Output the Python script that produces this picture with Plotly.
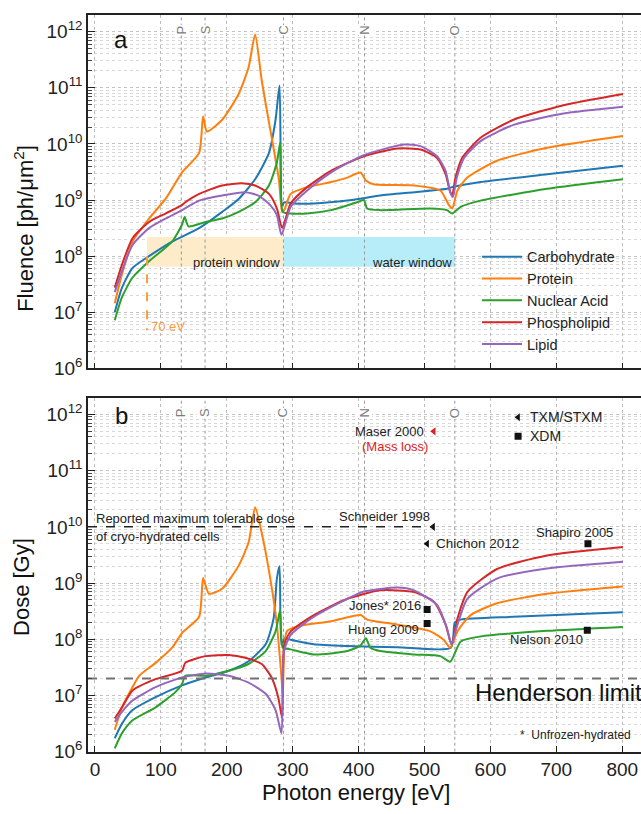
import plotly.graph_objects as go

W, H = 641, 814
FONT = "Liberation Sans, Arial, sans-serif"

# ---------------- data ----------------
series_names = ["Carbohydrate", "Protein", "Nuclear Acid", "Phospholipid", "Lipid"]
series_colors = ["#1f77b4", "#ff7f0e", "#2ca02c", "#d62728", "#9467bd"]

# Panel a: fluence, log10(ph/um^2)
E_fl_carb = [30, 41, 57, 82, 117, 158, 193, 218, 243, 264, 274, 280, 284, 287, 302, 332, 383, 433, 484, 534, 542, 585, 686, 801]
lg_fl_carb = [7.00, 7.44, 7.79, 8.00, 8.26, 8.50, 8.79, 9.02, 9.37, 9.84, 10.43, 11.04, 8.90, 8.96, 8.94, 8.94, 8.99, 9.08, 9.14, 9.20, 9.23, 9.32, 9.46, 9.61]

E_fl_prot = [30, 41, 57, 82, 107, 132, 158, 164, 170, 193, 218, 233, 243, 253, 266, 279, 284, 287, 297, 322, 358, 383, 403, 411, 423, 484, 524, 537, 542, 550, 565, 610, 686, 801]
lg_fl_prot = [7.16, 7.68, 8.26, 8.67, 9.02, 9.49, 9.84, 10.49, 10.22, 10.43, 10.89, 11.36, 11.95, 11.13, 10.25, 9.37, 8.79, 8.82, 9.11, 9.23, 9.32, 9.40, 9.49, 9.35, 9.28, 9.26, 9.17, 8.91, 8.85, 9.17, 9.40, 9.70, 9.93, 10.14]

E_fl_nucl = [30, 41, 57, 82, 117, 132, 136, 142, 168, 193, 218, 243, 264, 276, 281, 285, 297, 322, 358, 398, 408, 413, 433, 509, 534, 542, 555, 585, 686, 801]
lg_fl_nucl = [6.86, 7.27, 7.62, 7.91, 8.26, 8.56, 8.70, 8.53, 8.61, 8.67, 8.79, 8.96, 9.26, 9.67, 10.02, 8.79, 8.76, 8.76, 8.82, 8.96, 9.00, 8.85, 8.82, 8.85, 8.82, 8.76, 8.88, 8.99, 9.20, 9.37]

E_fl_phos = [30, 41, 57, 82, 107, 132, 137, 158, 193, 223, 243, 264, 276, 284, 297, 322, 358, 408, 459, 494, 519, 532, 539, 542, 547, 557, 585, 635, 711, 801]
lg_fl_phos = [7.44, 7.85, 8.32, 8.61, 8.76, 8.91, 8.96, 9.11, 9.26, 9.30, 9.26, 9.11, 8.85, 8.50, 8.94, 9.23, 9.52, 9.78, 9.92, 9.90, 9.75, 9.46, 9.14, 9.09, 9.40, 9.75, 10.11, 10.43, 10.69, 10.89]

E_fl_lipi = [30, 41, 57, 82, 107, 132, 158, 193, 228, 248, 266, 276, 283, 297, 322, 358, 408, 469, 494, 519, 532, 539, 543, 549, 560, 585, 635, 711, 801]
lg_fl_lipi = [7.36, 7.74, 8.20, 8.50, 8.67, 8.82, 8.99, 9.08, 9.14, 9.08, 8.91, 8.73, 8.38, 8.88, 9.17, 9.49, 9.80, 9.99, 9.96, 9.78, 9.52, 9.14, 9.05, 9.40, 9.75, 10.05, 10.34, 10.54, 10.66]

# Panel b: dose, log10(Gy)
E_do_carb = [30, 41, 57, 92, 132, 168, 203, 233, 259, 271, 276, 280, 283, 288, 297, 332, 383, 459, 540, 546, 555, 635, 801]
lg_do_carb = [6.24, 6.50, 6.74, 6.97, 7.18, 7.32, 7.44, 7.61, 7.91, 8.37, 9.08, 9.30, 7.90, 8.02, 7.99, 7.91, 7.88, 7.86, 7.85, 8.30, 8.35, 8.40, 8.48]

E_do_prot = [30, 41, 57, 67, 92, 117, 132, 158, 164, 173, 193, 218, 233, 243, 253, 266, 276, 283, 285, 291, 307, 358, 403, 413, 459, 509, 529, 539, 550, 570, 610, 686, 801]
lg_do_prot = [6.39, 6.79, 7.15, 7.35, 7.58, 7.85, 8.11, 8.40, 9.09, 8.81, 8.90, 9.31, 9.72, 10.35, 9.89, 9.08, 8.26, 7.32, 7.00, 8.14, 8.23, 8.32, 8.43, 8.35, 8.26, 8.14, 7.99, 7.85, 8.14, 8.43, 8.64, 8.81, 8.94]

E_do_nucl = [30, 41, 57, 92, 122, 132, 137, 168, 203, 233, 259, 274, 281, 285, 297, 332, 383, 403, 411, 418, 433, 484, 524, 539, 555, 585, 686, 801]
lg_do_nucl = [6.06, 6.33, 6.56, 6.79, 7.06, 7.20, 7.35, 7.35, 7.44, 7.56, 7.79, 8.14, 8.52, 7.85, 7.82, 7.73, 7.79, 7.89, 8.02, 7.85, 7.79, 7.73, 7.70, 7.60, 7.96, 8.05, 8.15, 8.22]

E_do_phos = [30, 41, 57, 92, 132, 137, 168, 203, 228, 253, 268, 278, 284, 287, 297, 332, 383, 433, 484, 514, 532, 541, 550, 565, 610, 686, 801]
lg_do_phos = [6.59, 6.79, 7.09, 7.29, 7.44, 7.58, 7.70, 7.72, 7.67, 7.56, 7.32, 6.97, 6.60, 7.90, 8.14, 8.43, 8.72, 8.87, 8.84, 8.67, 8.26, 7.91, 8.37, 8.84, 9.25, 9.49, 9.64]

E_do_lipi = [30, 41, 57, 92, 132, 168, 203, 233, 259, 274, 283, 287, 297, 332, 383, 408, 459, 484, 519, 534, 541, 550, 565, 610, 686, 801]
lg_do_lipi = [6.53, 6.71, 6.91, 7.15, 7.32, 7.39, 7.35, 7.23, 7.03, 6.74, 6.33, 7.80, 8.08, 8.40, 8.72, 8.85, 8.92, 8.87, 8.61, 8.20, 7.91, 8.26, 8.72, 9.08, 9.26, 9.38]

# absorption edges
edge_labels = ["P", "S", "C", "N", "O"]
edge_energy = [131, 167, 286, 409, 546]

# reported doses (panel b)
ref_labels = ["Schneider 1998", "Chichon 2012", "Maser 2000", "Shapiro 2005", "Jones* 2016", "Huang 2009", "Nelson 2010"]
ref_energy = [513, 504, 514, 748, 504, 504, 747]
ref_dose = [1.0e10, 5.0e9, 5.0e11, 5.0e9, 3.4e8, 1.9e8, 1.45e8]
ref_symbol = ["triangle-left", "triangle-left", "triangle-left", "square", "square", "square", "square"]
ref_color = ["#111", "#111", "#e02020", "#111", "#111", "#111", "#111"]

henderson_limit = 2e7
max_tolerable = 1e10
protein_window = [79, 286]
water_window = [286, 546]
window_band = [6.5e7, 2.2e8]
cutoff_70 = 79

x_range = [-10.6, 828.5]
y_range = [6, 12.3]
x_ticks = [0, 100, 200, 300, 400, 500, 600, 700, 800]
y_ticks = [1e6, 1e7, 1e8, 1e9, 1e10, 1e11, 1e12]
y_ticktext = ["10<sup>%d</sup>" % e for e in range(6, 13)]
minor_vals = [k * 10 ** n for n in range(6, 13) for k in range(2, 10) if k * 10 ** n < 2e12]

# ---------------- figure ----------------
fig = go.Figure()

# windows (filled bands)
for (x0, x1), col in ((protein_window, "#fdebc9"), (water_window, "#b6edf8")):
    fig.add_trace(go.Scatter(x=[x0, x1, x1, x0, x0],
                             y=[window_band[0], window_band[0], window_band[1], window_band[1], window_band[0]],
                             mode="lines", fill="toself", fillcolor=col, line=dict(width=0),
                             hoverinfo="skip", showlegend=False, xaxis="x", yaxis="y"))

# absorption edge lines
for ax, ay in (("x", "y"), ("x2", "y2")):
    for e in edge_energy:
        fig.add_trace(go.Scatter(x=[e, e], y=[10 ** y_range[0], 10 ** y_range[1]], mode="lines",
                                 line=dict(color="#9a9a9a", width=1, dash="dot"),
                                 hoverinfo="skip", showlegend=False, xaxis=ax, yaxis=ay))

fl_sets = [(E_fl_carb, lg_fl_carb), (E_fl_prot, lg_fl_prot), (E_fl_nucl, lg_fl_nucl),
           (E_fl_phos, lg_fl_phos), (E_fl_lipi, lg_fl_lipi)]
do_sets = [(E_do_carb, lg_do_carb), (E_do_prot, lg_do_prot), (E_do_nucl, lg_do_nucl),
           (E_do_phos, lg_do_phos), (E_do_lipi, lg_do_lipi)]

for i, (name, col) in enumerate(zip(series_names, series_colors)):
    ex, ly = fl_sets[i]
    fig.add_trace(go.Scatter(x=ex, y=[10 ** v for v in ly], mode="lines", name=name,
                             line=dict(color=col, width=2, shape="spline", smoothing=0.6),
                             xaxis="x", yaxis="y", legendgroup=name, showlegend=True))
for i, (name, col) in enumerate(zip(series_names, series_colors)):
    ex, ly = do_sets[i]
    fig.add_trace(go.Scatter(x=ex, y=[10 ** v for v in ly], mode="lines", name=name,
                             line=dict(color=col, width=2, shape="spline", smoothing=0.6),
                             xaxis="x2", yaxis="y2", showlegend=False))

# reported dose markers
fig.add_trace(go.Scatter(x=ref_energy, y=ref_dose, mode="markers", showlegend=False,
                         marker=dict(symbol=ref_symbol, color=ref_color, size=7),
                         xaxis="x2", yaxis="y2"))
# marker legend samples (TXM/STXM, XDM)
fig.add_trace(go.Scatter(x=[642, 642], y=[8.9e11, 4.1e11], mode="markers", showlegend=False,
                         marker=dict(symbol=["triangle-left", "square"], color="#111", size=7),
                         xaxis="x2", yaxis="y2"))

# max tolerable dose line
fig.add_trace(go.Scatter(x=[x_range[0], 513], y=[max_tolerable, max_tolerable], mode="lines",
                         showlegend=False, line=dict(color="#222", width=1.5, dash="dash"),
                         xaxis="x2", yaxis="y2"))
# Henderson limit
fig.add_trace(go.Scatter(x=x_range, y=[henderson_limit, henderson_limit], mode="lines",
                         showlegend=False, line=dict(color="#707070", width=2, dash="dash"),
                         xaxis="x2", yaxis="y2"))
# 70 eV marker line
fig.add_trace(go.Scatter(x=[cutoff_70, cutoff_70], y=[1e8, 4.8e6], mode="lines",
                         showlegend=False, line=dict(color="#ff9a3c", width=2, dash="dash"),
                         xaxis="x", yaxis="y"))


def ann(text, px, py, size=13, color="#222", xanchor="center", yanchor="middle", angle=0):
    return dict(text=text, x=px / W, y=1 - py / H, xref="paper", yref="paper", showarrow=False,
                font=dict(size=size, color=color, family=FONT), xanchor=xanchor,
                yanchor=yanchor, textangle=angle)


anns = []
for lab, e in zip(edge_labels, edge_energy):
    for ax, yd in (("x", "y domain"), ("x2", "y2 domain")):
        anns.append(dict(text=lab, x=e, y=0.972, xref=ax, yref=yd, showarrow=False, textangle=-90,
                         bgcolor="white", borderpad=0,
                         font=dict(size=13, color="#7a7a7a", family=FONT)))

anns += [
    ann("a", 121, 40, size=24, color="#111"),
    ann("b", 121, 421, size=24, color="#111"),
    ann("Fluence [ph/μm<sup>2</sup>]", 24, 232, size=22, color="#111", angle=-90),
    ann("Dose [Gy]", 22, 595, size=22, color="#111", angle=-90),
    ann("Photon energy [eV]", 356, 803, size=22, color="#111"),
    ann("protein window", 191, 266, size=13, xanchor="left"),
    ann("water window", 370, 266, size=13, xanchor="left"),
    ann("70 eV", 149, 331, size=13, color="#ff9a3c", xanchor="left"),
    ann("Reported maximum tolerable dose", 94, 526, size=13, xanchor="left"),
    ann("of cryo-hydrated cells", 94, 544, size=13, xanchor="left"),
    ann("Schneider 1998", 432, 524, size=13, xanchor="right"),
    ann("Chichon 2012", 434, 551, size=13.5, xanchor="left"),
    ann("Maser 2000", 426, 437, size=13, xanchor="right"),
    ann("(Mass loss)", 395, 453, size=13, color="#e02020"),
    ann("TXM/STXM", 528, 423, size=14, xanchor="left"),
    ann("XDM", 528, 442, size=14, xanchor="left"),
    ann("Shapiro 2005", 574, 540, size=13),
    ann("Jones* 2016", 423, 614, size=13, xanchor="right"),
    ann("Huang 2009", 421, 638, size=13, xanchor="right"),
    ann("Nelson 2010", 585, 648, size=13, xanchor="right"),
    ann("Henderson limit", 473, 702, size=24, color="#111", xanchor="left"),
    ann("*  Unfrozen-hydrated", 518, 745, size=12, xanchor="left"),
]

xdom = [88 / W, 1.0]
yA = [1 - 373.5 / H, 1 - 15 / H]
yB = [1 - 762 / H, 1 - 403 / H]

common_x = dict(range=x_range, tickvals=x_ticks, ticks="inside", ticklen=6, tickcolor="#222",
                showline=True, linecolor="#222", linewidth=1.5, mirror=True,
                showgrid=True, gridcolor="#bdbdbd", griddash="dot", gridwidth=1, zeroline=False,
                tickfont=dict(size=19, color="#222", family=FONT), domain=xdom)
common_y = dict(type="log", range=y_range, tickvals=y_ticks, ticktext=y_ticktext, ticks="inside",
                ticklen=7, tickcolor="#222", showline=True, linecolor="#222", linewidth=1.5,
                mirror=False, showgrid=True, gridcolor="#c4c4c4", griddash="dot", gridwidth=1,
                zeroline=False, tickfont=dict(size=19, color="#222", family=FONT),
                minor=dict(tickmode="array", tickvals=minor_vals, ticks="inside", ticklen=4,
                           tickcolor="#444", showgrid=True, gridcolor="#d8d8d8", griddash="dot",
                           gridwidth=1))

fig.update_layout(
    width=W, height=H, margin=dict(l=0, r=0, t=0, b=0),
    paper_bgcolor="white", plot_bgcolor="white",
    font=dict(family=FONT, color="#222"),
    xaxis=dict(anchor="y", showticklabels=False, **common_x),
    yaxis=dict(anchor="x", domain=yA, **common_y),
    xaxis2=dict(anchor="y2", showticklabels=True, **common_x),
    yaxis2=dict(anchor="x2", domain=yB, **common_y),
    annotations=anns,
    legend=dict(x=477 / W, y=1 - 244 / H, xanchor="left", yanchor="top",
                bgcolor="rgba(0,0,0,0)", font=dict(size=14.5, color="#222", family=FONT),
                tracegroupgap=0, itemwidth=40),
)

fig.write_html("out.html")
